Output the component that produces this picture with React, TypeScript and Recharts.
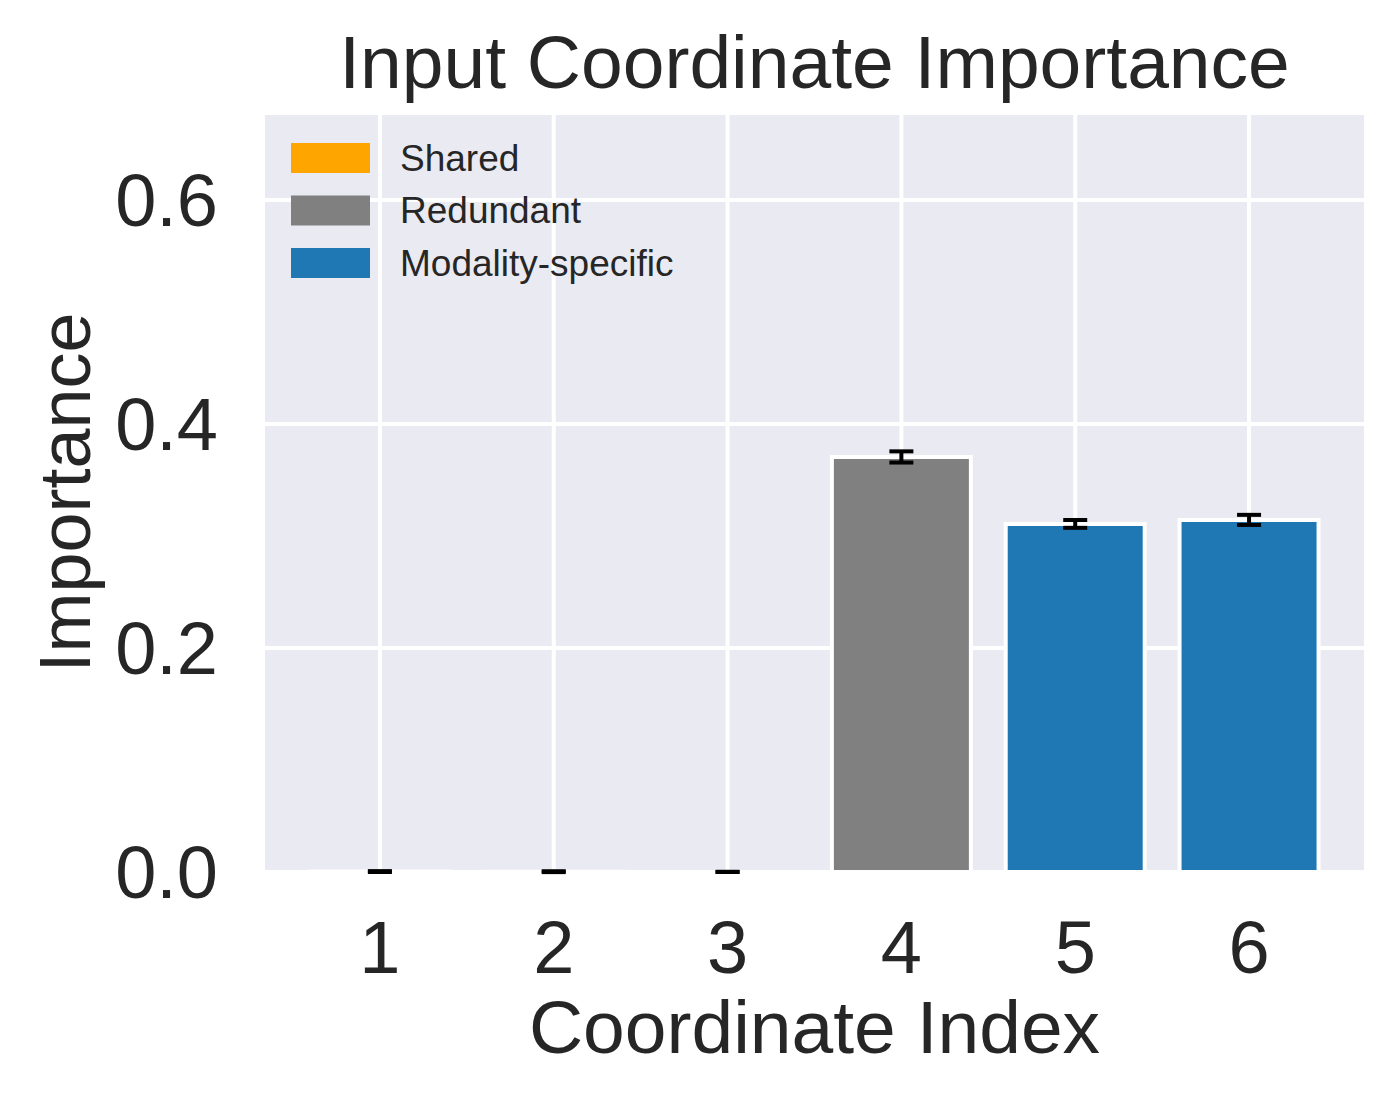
import { BarChart, Bar, XAxis, YAxis, CartesianGrid, Cell, ErrorBar, Label } from "recharts";

const coords = ["1", "2", "3", "4", "5", "6"];
const importance = [0.0004, 0.0003, 0.0001, 0.3706, 0.3108, 0.3144];
const importanceErr = [0.0004, 0.0004, 0.0001, 0.005, 0.0035, 0.0045];
const groupOf = ["Shared", "Shared", "Shared", "Redundant", "Modality-specific", "Modality-specific"];
const groups = ["Shared", "Redundant", "Modality-specific"];
const groupColors: Record<string, string> = {
  Shared: "#FFA500",
  Redundant: "#808080",
  "Modality-specific": "#1F77B4",
};
const yTicks = [0, 0.2, 0.4, 0.6];

const W = 1398;
const H = 1099;
const FONT = '"Liberation Sans", Arial, sans-serif';
const INK = "#262626";

const data = coords.map((c, i) => ({
  coord: c,
  value: importance[i],
  err: importanceErr[i],
  group: groupOf[i],
}));

function YTitle({ viewBox }: any) {
  const cx = 90;
  const cy = viewBox ? viewBox.y + viewBox.height / 2 : 492;
  return (
    <text
      x={cx}
      y={cy}
      transform={`rotate(-90 ${cx} ${cy})`}
      textAnchor="middle"
      fontSize={72}
      fill={INK}
      fontFamily={FONT}
    >
      Importance
    </text>
  );
}

export default function App() {
  return (
    <div style={{ position: "absolute", left: 0, top: 0, width: W, height: H, background: "#fff", fontFamily: FONT }}>
      <BarChart
        width={W}
        height={H}
        data={data}
        margin={{ top: 113, right: 32, left: 0, bottom: 0 }}
        barCategoryGap="10%"
      >
        <CartesianGrid fill="#EAEAF2" stroke="#fff" strokeWidth={4} />
        <XAxis
          dataKey="coord"
          height={227}
          padding={{ left: 30, right: 30 }}
          axisLine={false}
          tickLine={false}
          tickSize={0}
          tickMargin={48}
          interval={0}
          tick={{ fontSize: 74, fill: INK, fontFamily: FONT }}
        >
          <Label
            value="Coordinate Index"
            position="insideBottom"
            offset={46}
            fontSize={75}
            fill={INK}
            fontFamily={FONT}
          />
        </XAxis>
        <YAxis
          width={263}
          domain={[0, 0.6777]}
          ticks={yTicks}
          allowDataOverflow
          axisLine={false}
          tickLine={false}
          tickSize={0}
          tickMargin={45}
          tickFormatter={(v: number) => v.toFixed(1)}
          tick={{ fontSize: 74, fill: INK, fontFamily: FONT }}
        >
          <Label content={<YTitle />} />
        </YAxis>
        <Bar dataKey="value" stroke="#fff" strokeWidth={4} isAnimationActive={false}>
          {data.map((d) => (
            <Cell key={d.coord} fill={groupColors[d.group]} />
          ))}
          <ErrorBar dataKey="err" direction="y" width={12} stroke="#000" strokeWidth={4} isAnimationActive={false} />
        </Bar>
      </BarChart>
      <svg width={W} height={H} style={{ position: "absolute", left: 0, top: 0, pointerEvents: "none" }}>
        <text x={814.5} y={88} textAnchor="middle" fontSize={75} fill={INK} fontFamily={FONT}>
          Input Coordinate Importance
        </text>
        {groups.map((g, i) => (
          <g key={g}>
            <rect x={291} y={143 + i * 52.5} width={79} height={30} fill={groupColors[g]} />
            <text x={400} y={170.7 + i * 52.5} fontSize={37} fill={INK} fontFamily={FONT}>
              {g}
            </text>
          </g>
        ))}
      </svg>
    </div>
  );
}
